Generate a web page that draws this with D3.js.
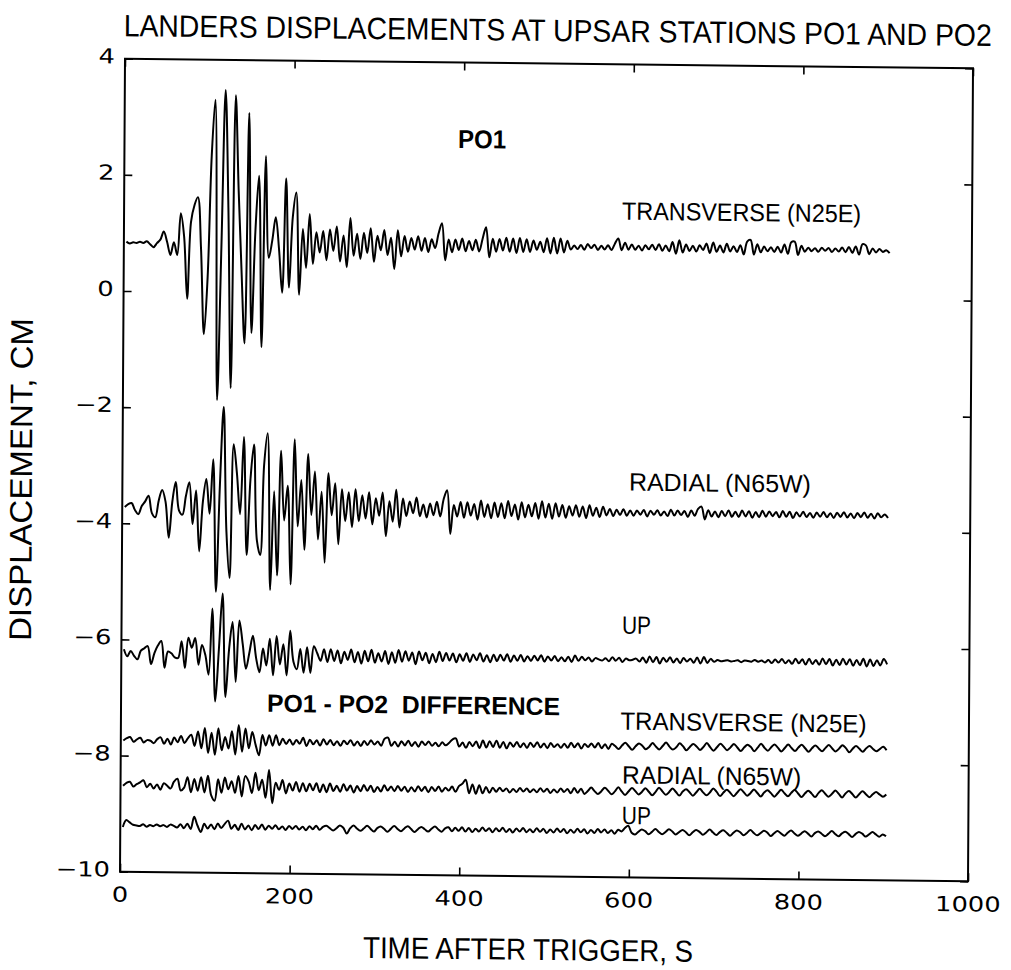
<!DOCTYPE html>
<html>
<head>
<meta charset="utf-8">
<script src="https://cdn.jsdelivr.net/npm/d3@7"></script>
<style>
  body { margin: 0; background: #fff; }
  svg { display: block; }
  text { fill: #000; }
</style>
</head>
<body>
<svg id="chart" width="1011" height="970"></svg>
<script>
// Landers displacement records, sampled every 4 s from t = 3 s after trigger.
// Each trace is stored as deviations (cm) from its plotting baseline.
const sampleStart = 3;
const sampleStep = 4;

const p01Transverse = [
  0.00, -0.03, -0.01, -0.02, 0.00, -0.02, 0.01, -0.04, -0.09, -0.02,
  0.04, 0.18, 0.00, -0.22, 0.00, -0.22, 0.50, 0.10, -0.97, 0.35,
  0.64, 0.78, -0.10, -1.58, -0.60, 1.50, 2.46, -2.71, -0.10, 2.63,
  0.60, -2.50, 2.54, 0.90, -0.50, -1.73, 2.24, -1.55, 0.20, 1.16,
  -1.79, 1.50, -0.25, 0.05, 0.45, -0.10, -0.85, 1.12, -0.76, 0.45,
  0.88, -0.88, 0.25, -0.42, 0.51, -0.35, 0.20, -0.15, 0.22, -0.28,
  0.25, -0.12, 0.30, -0.30, 0.15, -0.40, 0.45, -0.20, 0.18, -0.25,
  0.20, -0.15, 0.28, -0.30, 0.15, -0.10, 0.25, -0.18, 0.12, -0.42,
  0.25, -0.20, 0.15, -0.12, 0.12, -0.08, 0.15, -0.10, 0.12, -0.12,
  0.10, -0.05, 0.20, 0.38, -0.26, 0.10, -0.12, 0.10, -0.08, 0.12,
  -0.10, 0.08, -0.08, 0.10, -0.10, 0.12, 0.32, -0.20, 0.12, -0.10,
  0.12, -0.08, 0.14, -0.10, 0.13, -0.12, 0.14, -0.10, 0.12, -0.10,
  0.10, -0.06, 0.08, -0.10, 0.14, -0.12, 0.15, -0.12, 0.14, -0.10,
  0.10, -0.05, 0.02, -0.04, 0.03, -0.05, 0.05, -0.02, 0.04, -0.05,
  0.02, -0.04, 0.03, -0.05, 0.06, 0.15, -0.05, 0.08, -0.04, 0.05,
  -0.04, 0.03, -0.05, 0.04, -0.03, 0.05, -0.04, 0.06, -0.05, 0.04,
  -0.06, 0.10, -0.10, 0.13, -0.08, 0.06, -0.05, 0.04, -0.06, 0.05,
  -0.03, 0.08, -0.08, 0.10, -0.06, 0.05, -0.07, 0.08, -0.05, 0.04,
  -0.06, 0.06, -0.10, 0.12, 0.15, -0.10, 0.08, -0.06, 0.04, -0.04,
  0.03, -0.05, 0.04, -0.06, 0.08, -0.08, 0.12, 0.13, -0.10, 0.06,
  -0.04, 0.03, -0.03, 0.02, -0.04, 0.03, -0.02, 0.03, -0.04, 0.02,
  -0.03, 0.04, -0.04, 0.05, -0.05, 0.06, -0.08, 0.10, 0.08, -0.07,
  0.03, -0.04, 0.02, -0.03, 0.00, -0.05
];

const p01Radial = [
  0.00, 0.05, 0.07, -0.05, -0.12, 0.02, 0.10, 0.20, -0.10, -0.17,
  0.12, 0.30, 0.10, -0.52, 0.10, 0.44, -0.05, -0.12, 0.20, 0.44,
  -0.28, 0.30, -0.75, 0.10, 0.50, -0.10, 0.84, -1.44, 0.40, 1.74,
  -0.40, -1.20, 1.10, 0.60, -0.10, 1.23, -0.80, 0.50, 1.10, -0.55,
  -0.80, 0.75, 1.30, -1.40, 0.30, -1.15, 1.00, -0.20, 0.40, -1.30,
  1.20, -0.30, 0.50, -0.70, 0.95, -0.10, 0.65, -0.52, 0.30, -0.92,
  0.62, -0.10, 0.45, -0.60, 0.35, -0.20, 0.30, -0.30, 0.35, -0.20,
  0.25, -0.15, 0.30, -0.25, 0.20, -0.10, 0.30, -0.45, 0.15, -0.20,
  0.35, -0.30, 0.20, -0.10, 0.15, -0.05, 0.22, -0.10, 0.10, -0.12,
  0.12, -0.08, 0.15, -0.10, 0.20, 0.35, -0.40, 0.10, -0.10, 0.15,
  -0.12, 0.15, -0.08, 0.12, -0.15, 0.18, -0.10, 0.12, -0.12, 0.15,
  -0.10, 0.14, -0.12, 0.18, -0.08, 0.12, -0.14, 0.16, -0.10, 0.12,
  -0.08, 0.15, -0.12, 0.18, -0.10, 0.14, -0.12, 0.15, -0.08, 0.12,
  -0.10, 0.10, -0.06, 0.12, -0.08, 0.10, -0.10, 0.12, -0.06, 0.08,
  -0.08, 0.10, -0.05, 0.06, -0.06, 0.05, -0.04, 0.06, -0.05, 0.04,
  -0.05, 0.04, -0.03, 0.05, -0.06, 0.04, -0.03, 0.05, -0.04, 0.03,
  -0.05, 0.06, -0.04, 0.05, -0.03, 0.04, -0.06, 0.05, -0.04, 0.08,
  0.12, -0.10, 0.06, -0.05, 0.04, -0.06, 0.05, -0.04, 0.06, -0.05,
  0.04, -0.05, 0.06, -0.04, 0.05, -0.06, 0.04, -0.05, 0.06, -0.04,
  0.05, -0.03, 0.04, -0.05, 0.06, -0.04, 0.05, -0.06, 0.04, -0.03,
  0.05, -0.04, 0.03, -0.05, 0.04, -0.03, 0.05, -0.04, 0.03, -0.05,
  0.04, -0.03, 0.05, -0.04, 0.03, -0.05, 0.04, -0.03, 0.05, -0.04,
  0.03, -0.05, 0.04, -0.03, 0.02, -0.04
];

const p01Up = [
  0.08, -0.04, 0.05, -0.03, -0.09, 0.06, 0.10, 0.14, -0.17, 0.02,
  0.15, 0.23, -0.23, 0.05, 0.02, -0.05, -0.06, 0.23, -0.23, 0.29,
  0.12, 0.29, -0.17, 0.17, 0.00, -0.34, 0.80, -0.80, 0.10, 1.06,
  -0.72, 0.10, 0.57, -0.46, 0.60, 0.20, -0.23, 0.05, 0.34, -0.05,
  -0.29, 0.12, -0.17, 0.29, -0.34, 0.34, -0.15, 0.20, -0.34, 0.43,
  -0.10, -0.23, 0.12, -0.29, 0.15, -0.29, 0.17, 0.05, -0.08, 0.12,
  -0.10, 0.12, -0.08, 0.10, -0.12, 0.08, -0.06, 0.12, -0.10, 0.08,
  -0.12, 0.10, -0.08, 0.12, -0.10, 0.06, -0.08, 0.10, -0.12, 0.08,
  -0.10, 0.12, -0.08, 0.10, -0.06, 0.08, -0.12, 0.10, -0.05, 0.08,
  -0.10, 0.06, -0.08, 0.10, -0.06, 0.08, -0.05, 0.07, -0.08, 0.06,
  -0.05, 0.08, -0.07, 0.06, -0.04, 0.08, -0.06, 0.05, -0.07, 0.06,
  -0.05, 0.06, -0.04, 0.07, -0.06, 0.05, -0.04, 0.06, -0.05, 0.04,
  -0.04, 0.05, -0.03, 0.06, -0.05, 0.04, -0.03, 0.05, -0.04, 0.03,
  -0.04, 0.04, -0.05, 0.06, -0.03, 0.04, -0.02, 0.03, -0.04, 0.02,
  0.00, -0.02, 0.02, -0.03, 0.04, -0.02, 0.03, -0.04, 0.02, -0.01,
  0.00, 0.02, -0.03, 0.04, -0.05, 0.06, -0.04, 0.05, -0.06, 0.04,
  -0.03, 0.05, -0.04, 0.03, -0.05, 0.04, -0.02, 0.03, -0.04, 0.05,
  -0.05, 0.06, -0.04, 0.03, -0.02, 0.01, -0.01, 0.00, 0.01, -0.01,
  0.00, 0.01, -0.02, 0.01, 0.00, -0.01, 0.02, -0.01, 0.01, -0.02,
  0.02, -0.03, 0.03, -0.02, 0.04, -0.03, 0.02, -0.04, 0.05, -0.03,
  0.04, -0.05, 0.05, -0.04, 0.03, -0.05, 0.06, -0.04, 0.05, -0.06,
  0.04, -0.05, 0.06, -0.04, 0.05, -0.06, 0.04, -0.05, 0.06, -0.07,
  0.05, -0.06, 0.04, -0.05, 0.06, -0.03
];

const diffTransverse = [
  0.00, 0.04, 0.06, -0.02, 0.02, 0.05, -0.03, 0.01, 0.00, -0.04,
  0.03, 0.06, -0.05, 0.04, -0.06, 0.06, -0.02, 0.09, -0.03, 0.05,
  0.11, -0.08, 0.17, -0.12, 0.23, -0.20, 0.15, -0.23, 0.23, -0.15,
  0.08, -0.12, 0.18, -0.22, 0.29, -0.17, 0.23, -0.11, 0.17, -0.05,
  -0.23, 0.12, -0.06, 0.12, -0.06, 0.12, -0.05, 0.06, -0.03, 0.05,
  -0.04, 0.04, -0.02, 0.08, -0.06, 0.05, -0.03, 0.04, -0.05, 0.06,
  -0.03, 0.05, -0.04, 0.03, -0.05, 0.04, -0.02, 0.05, -0.04, 0.03,
  -0.05, 0.04, -0.03, 0.05, -0.02, 0.03, -0.04, 0.08, 0.10, -0.04,
  0.03, -0.05, 0.04, -0.03, 0.05, -0.04, 0.03, -0.05, 0.04, -0.02,
  0.04, -0.03, 0.02, -0.04, 0.03, -0.02, 0.02, 0.08, 0.10, -0.04,
  0.03, -0.06, 0.04, -0.03, 0.05, -0.06, 0.07, -0.05, 0.06, -0.04,
  0.07, -0.05, 0.05, -0.06, 0.04, -0.03, 0.05, -0.04, 0.03, -0.05,
  0.04, -0.03, 0.05, -0.04, 0.03, -0.05, 0.04, -0.03, 0.02, -0.04,
  0.03, -0.04, 0.05, -0.03, 0.04, -0.05, 0.03, -0.02, 0.04, -0.03,
  0.05, -0.04, 0.03, -0.05, 0.04, 0.00, -0.05, 0.01, 0.06, 0.00,
  -0.06, 0.00, 0.05, 0.01, -0.05, -0.01, 0.06, 0.00, -0.05, 0.01,
  0.07, 0.00, -0.05, -0.01, 0.06, 0.01, -0.06, 0.00, 0.05, 0.01,
  -0.05, 0.00, 0.07, 0.00, -0.06, 0.00, 0.06, 0.01, -0.05, 0.00,
  0.06, 0.00, -0.06, 0.00, 0.05, 0.01, -0.06, 0.00, 0.07, 0.00,
  -0.05, 0.01, 0.06, 0.00, -0.06, 0.00, 0.06, 0.00, -0.05, 0.01,
  0.06, 0.00, -0.06, 0.00, 0.05, 0.00, -0.05, 0.01, 0.06, 0.00,
  -0.05, 0.00, 0.06, 0.01, -0.06, 0.00, 0.05, 0.00, -0.05, 0.01,
  0.05, 0.00, -0.04, 0.00, 0.04, -0.02
];

const diffRadial = [
  0.00, 0.05, 0.07, -0.01, 0.03, 0.06, 0.10, -0.02, 0.04, -0.04,
  0.03, -0.06, 0.05, 0.01, -0.04, 0.08, 0.13, -0.07, -0.02, 0.16,
  -0.10, 0.13, -0.07, 0.16, -0.10, 0.19, -0.15, -0.24, 0.13, -0.10,
  0.16, -0.04, 0.10, -0.10, 0.19, -0.16, 0.19, 0.10, -0.10, 0.25,
  -0.05, 0.13, -0.18, 0.30, -0.27, 0.08, -0.04, 0.13, -0.10, 0.07,
  -0.05, 0.10, -0.07, 0.08, -0.06, 0.07, -0.04, 0.08, -0.07, 0.06,
  -0.07, 0.08, -0.05, 0.04, -0.06, 0.07, -0.04, 0.05, -0.07, 0.04,
  -0.05, 0.06, -0.04, 0.05, -0.06, 0.03, -0.05, 0.06, -0.03, 0.04,
  -0.04, 0.05, -0.03, 0.04, -0.05, 0.03, -0.04, 0.05, -0.03, 0.04,
  -0.05, 0.04, -0.03, 0.05, -0.04, 0.03, -0.02, 0.05, -0.04, 0.06,
  0.10, 0.17, -0.06, 0.09, -0.07, 0.08, -0.06, 0.05, -0.05, 0.04,
  -0.03, 0.04, -0.02, 0.03, -0.04, 0.02, -0.03, 0.04, -0.02, 0.03,
  -0.03, 0.02, -0.03, 0.04, -0.02, 0.03, -0.04, 0.02, -0.03, 0.04,
  -0.02, 0.03, -0.04, 0.05, -0.03, 0.04, -0.05, 0.00, 0.06, 0.00,
  -0.05, 0.00, 0.06, 0.01, -0.05, 0.00, 0.07, 0.00, -0.06, 0.00,
  0.06, 0.01, -0.05, 0.00, 0.06, 0.00, -0.06, 0.00, 0.07, 0.01,
  -0.05, 0.00, 0.06, 0.00, -0.06, 0.01, 0.05, 0.00, -0.06, 0.00,
  0.06, 0.00, -0.05, 0.00, 0.07, 0.01, -0.06, 0.00, 0.05, 0.00,
  -0.06, 0.00, 0.06, 0.01, -0.05, 0.00, 0.06, 0.00, -0.06, 0.01,
  0.05, 0.00, -0.06, 0.00, 0.06, 0.00, -0.05, 0.01, 0.06, 0.00,
  -0.06, 0.00, 0.05, 0.00, -0.06, 0.01, 0.06, 0.00, -0.05, 0.00,
  0.06, 0.00, -0.06, 0.01, 0.05, 0.00, -0.06, 0.00, 0.05, 0.00,
  -0.05, 0.00, 0.04, 0.00, -0.04, 0.00
];

const diffUp = [
  -0.02, 0.10, 0.06, 0.02, 0.01, 0.00, 0.03, -0.01, 0.02, 0.00,
  0.03, 0.00, 0.02, -0.01, 0.03, 0.01, -0.02, 0.04, -0.03, 0.05,
  -0.04, 0.17, 0.02, -0.09, 0.05, -0.03, 0.04, -0.04, 0.06, -0.02,
  0.05, 0.11, -0.03, 0.04, -0.05, 0.06, -0.04, 0.03, -0.05, 0.04,
  -0.03, 0.05, -0.04, 0.03, -0.02, 0.04, -0.03, 0.02, -0.04, 0.03,
  -0.02, 0.03, -0.03, 0.02, -0.04, 0.03, -0.02, 0.04, -0.03, 0.02,
  0.04, 0.00, -0.04, 0.00, 0.05, 0.01, -0.09, 0.00, 0.05, 0.00,
  -0.04, 0.00, 0.05, 0.00, -0.05, 0.01, 0.04, 0.00, -0.05, 0.00,
  0.05, 0.00, -0.04, 0.01, 0.05, 0.00, -0.05, 0.00, 0.04, 0.00,
  -0.04, 0.01, 0.05, 0.00, -0.04, 0.02, 0.04, -0.03, 0.03, -0.02,
  0.04, -0.03, 0.03, -0.04, 0.02, -0.03, 0.04, -0.02, 0.03, -0.04,
  0.03, -0.02, 0.04, -0.03, 0.02, -0.04, 0.03, -0.02, 0.04, -0.03,
  0.02, -0.03, 0.04, -0.02, 0.03, -0.04, 0.02, -0.03, 0.04, -0.02,
  0.03, -0.04, 0.02, -0.03, 0.04, -0.02, 0.03, -0.04, 0.02, -0.03,
  0.04, -0.02, 0.03, -0.03, 0.02, -0.04, 0.03, 0.00, 0.06, 0.10,
  -0.02, -0.05, 0.00, 0.04, 0.01, -0.04, 0.00, 0.05, 0.00, -0.04,
  0.00, 0.05, 0.01, -0.04, 0.00, 0.04, 0.00, -0.05, 0.00, 0.04,
  0.01, -0.04, 0.00, 0.05, 0.00, -0.04, 0.01, 0.04, 0.00, -0.05,
  0.00, 0.04, 0.01, -0.04, 0.00, 0.05, 0.00, -0.04, 0.00, 0.04,
  0.01, -0.05, 0.00, 0.04, 0.00, -0.04, 0.01, 0.05, 0.00, -0.04,
  0.00, 0.04, 0.00, -0.05, 0.01, 0.04, 0.00, -0.04, 0.00, 0.05,
  0.00, -0.04, 0.01, 0.04, 0.00, -0.05, 0.00, 0.04, 0.01, -0.04,
  0.00, 0.04, 0.00, -0.04, 0.00, -0.03
];

// Vertical offsets (cm) at which each trace is plotted, top to bottom.
const traceSeries = [p01Transverse, p01Radial, p01Up, diffTransverse, diffRadial, diffUp];
const traceBaselines = [0.85, -3.72, -6.25, -7.74, -8.52, -9.21];

// Axis ticks
const xTicks = [0, 200, 400, 600, 800, 1000];
const yTicks = [4, 2, 0, -2, -4, -6, -8, -10];

const svg = d3.select("#chart");
svg.append("rect").attr("width", 1011).attr("height", 970).attr("fill", "#fff");

// The sheet sits very slightly askew.
const page = svg.append("g")
  .attr("transform", "matrix(1,0.0114,-0.00616,1,2.9,-6.23)");

const x = d3.scaleLinear().domain([0, 1000]).range([122.5, 970.5]);
const y = d3.scaleLinear().domain([-10, 4]).range([876.5, 63.5]);

const regular = "'Liberation Sans',Arial,sans-serif";
const numeric = "'DejaVu Sans',sans-serif";

// Frame
page.append("rect")
  .attr("x", x(0)).attr("y", y(4))
  .attr("width", x(1000) - x(0)).attr("height", y(-10) - y(4))
  .attr("fill", "none").attr("stroke", "#000").attr("stroke-width", 2);

// Inward ticks on all four sides
const tickLen = 8;
function styleAxis(g) {
  g.select(".domain").remove();
  g.selectAll(".tick line").attr("stroke", "#000").attr("stroke-width", 1.6);
  g.selectAll(".tick text").remove();
}
page.append("g").attr("transform", `translate(${x(0)},0)`)
  .call(d3.axisLeft(y).tickValues(yTicks).tickSize(-tickLen).tickSizeOuter(0)).call(styleAxis);
page.append("g").attr("transform", `translate(${x(1000)},0)`)
  .call(d3.axisRight(y).tickValues(yTicks).tickSize(-tickLen).tickSizeOuter(0)).call(styleAxis);
page.append("g").attr("transform", `translate(0,${y(-10)})`)
  .call(d3.axisBottom(x).tickValues(xTicks).tickSize(-tickLen).tickSizeOuter(0)).call(styleAxis);
page.append("g").attr("transform", `translate(0,${y(4)})`)
  .call(d3.axisTop(x).tickValues(xTicks).tickSize(-tickLen).tickSizeOuter(0)).call(styleAxis);

// Tick labels
const fmt = d => (d < 0 ? "\u2212" + Math.abs(d) : String(d));
page.append("g").selectAll("g").data(yTicks).join("g")
  .attr("transform", d => `translate(${x(0) - 10},${y(d) + 5}) scale(1.25,1)`)
  .append("text")
  .attr("text-anchor", "end")
  .style("font-family", numeric).style("font-size", "20.6px")
  .text(fmt);
page.append("g").selectAll("g").data(xTicks).join("g")
  .attr("transform", d => `translate(${x(d)},${y(-10) + 30}) scale(1.25,1)`)
  .append("text")
  .attr("text-anchor", "middle")
  .style("font-family", numeric).style("font-size", "20.6px")
  .text(fmt);

// Traces
const line = d3.line()
  .x(d => x(d[0]))
  .y(d => y(d[1]))
  .curve(d3.curveCatmullRom.alpha(0.5));

traceSeries.forEach((values, k) => {
  const pts = values.map((v, i) => [sampleStart + i * sampleStep, traceBaselines[k] + v]);
  page.append("path")
    .attr("d", line(pts))
    .attr("fill", "none")
    .attr("stroke", "#000")
    .attr("stroke-width", 2)
    .attr("stroke-linejoin", "round");
});

// Annotations; tall=vertical stretch for the condensed-looking headings
function label(txt, px, py, size, width, opts = {}) {
  const g = page.append("g")
    .attr("transform", `translate(${px},${py}) scale(1,${opts.tall || 1})`);
  g.append("text")
    .attr("x", 0).attr("y", 0)
    .attr("text-anchor", opts.anchor || "start")
    .attr("textLength", width)
    .attr("lengthAdjust", "spacingAndGlyphs")
    .style("font-family", regular)
    .style("font-weight", opts.bold ? "bold" : "normal")
    .style("font-size", size + "px")
    .style("white-space", "pre")
    .text(txt);
}
label("PO1", 456, 149, 26, 48, { bold: true });
label("TRANSVERSE (N25E)", 620.5, 218.8, 25, 239);
label("RADIAL (N65W)", 629, 489.6, 25, 182);
label("UP", 623, 632.8, 25, 29);
label("PO1 - PO2  DIFFERENCE", 268.5, 714.9, 25, 293, { bold: true });
label("TRANSVERSE (N25E)", 622, 728.8, 25, 246);
label("RADIAL (N65W)", 624, 782.6, 25, 179);
label("UP", 624, 823.1, 25, 29);

// Titles
label("LANDERS DISPLACEMENTS AT UPSAR STATIONS PO1 AND PO2", 555, 41, 27.5, 868,
  { anchor: "middle", tall: 1.12 });
label("TIME AFTER TRIGGER, S", 531, 960, 28, 330, { anchor: "middle", tall: 1.08 });

page.append("g")
  .attr("transform", "translate(32,485.5) rotate(-90) scale(1,1.08)")
  .append("text")
  .attr("text-anchor", "middle")
  .attr("textLength", 323)
  .attr("lengthAdjust", "spacingAndGlyphs")
  .style("font-family", regular)
  .style("font-size", "29px")
  .text("DISPLACEMENT, CM");
</script>
</body>
</html>
